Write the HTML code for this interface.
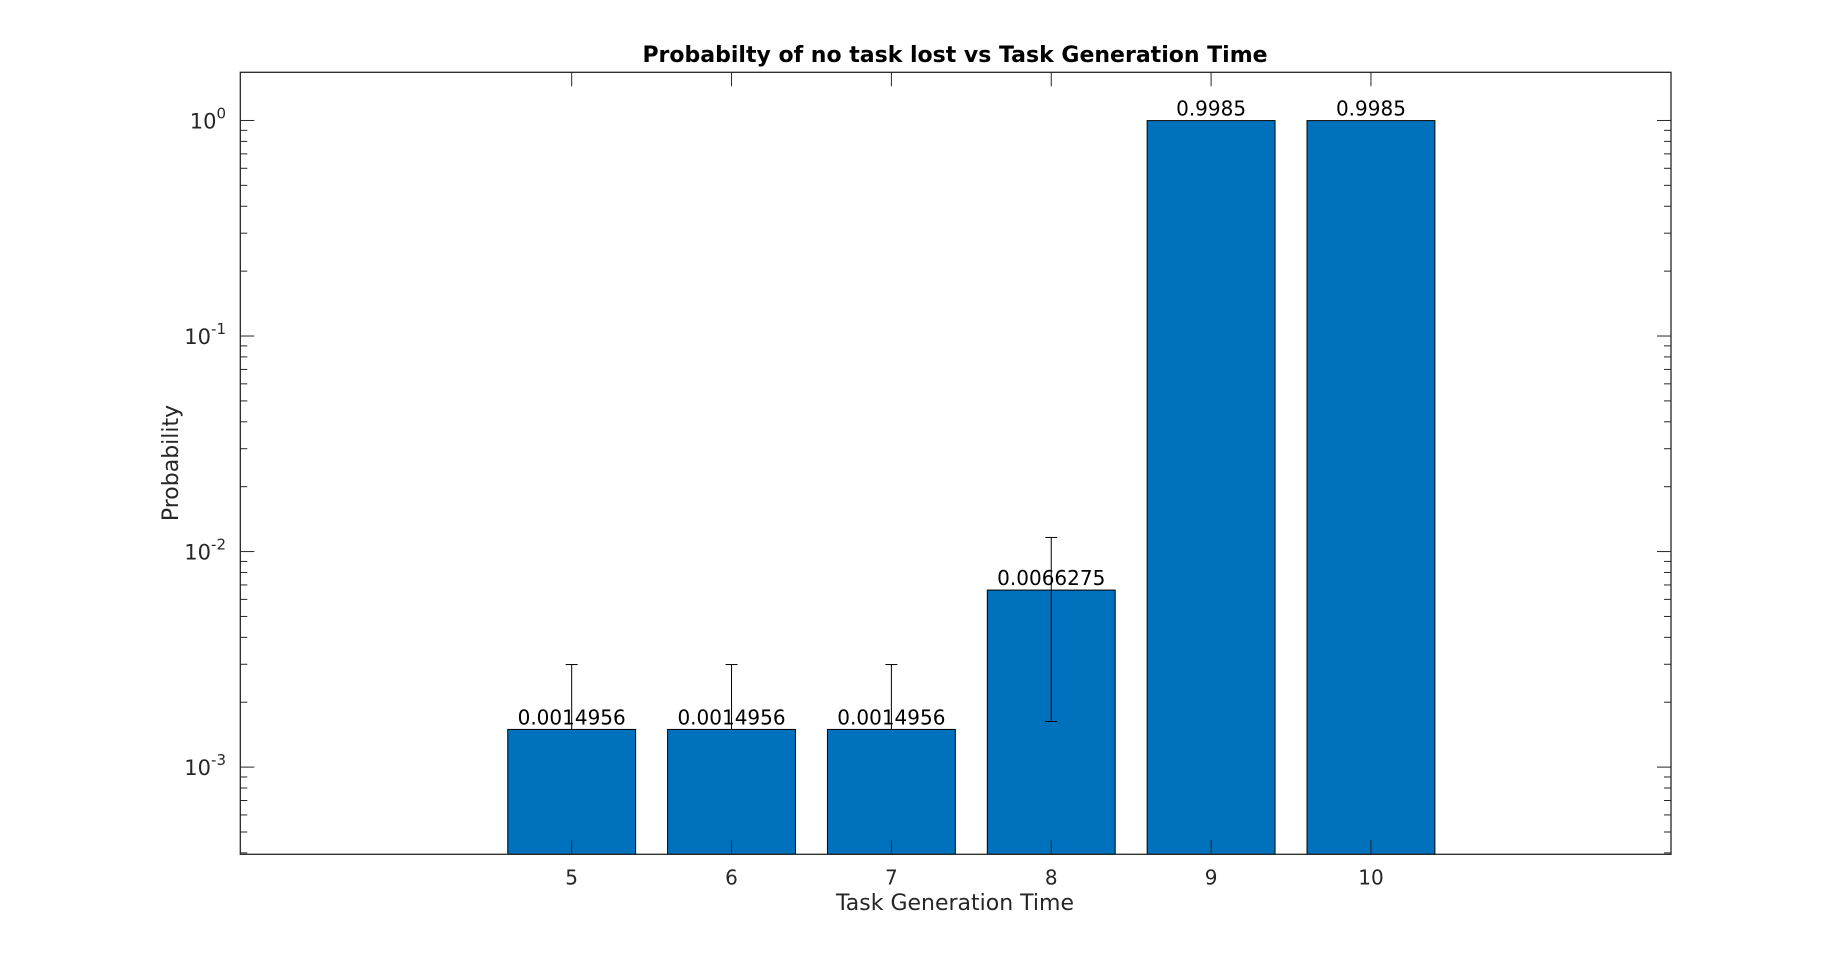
<!DOCTYPE html>
<html><head><meta charset="utf-8"><style>
body{margin:0;background:#fff;}
svg{display:block;font-family:"DejaVu Sans","Liberation Sans",sans-serif;}
</style></head><body>
<svg id="chart" width="1848" height="961" viewBox="0 0 1848 961" xmlns="http://www.w3.org/2000/svg">
<rect width="1848" height="961" fill="#fff"/>
<text x="955" y="62" text-anchor="middle" font-size="22" font-weight="bold" fill="#000">Probabilty of no task lost vs Task Generation Time</text>
<text x="955" y="910" text-anchor="middle" font-size="22" fill="#262626">Task Generation Time</text>
<text transform="translate(178,463) rotate(-90)" text-anchor="middle" font-size="22" fill="#262626">Probability</text>
<g id="bars"></g>
<g id="axes"></g>
</svg>
<script>
const categories = [5, 6, 7, 8, 9, 10];
const values = [0.0014956, 0.0014956, 0.0014956, 0.0066275, 0.9985, 0.9985];
const errors = [0.0014956, 0.0014956, 0.0014956, 0.0050, 0, 0];
const valueLabels = ["0.0014956", "0.0014956", "0.0014956", "0.0066275", "0.9985", "0.9985"];
const yTickExps = [0, -1, -2, -3];

const L = 240.3, R = 1671, T = 72.3, B = 854.3;
const xMin = 2.927, xMax = 11.877;
const yLogMin = Math.log10(3.94e-4), yLogMax = 0.2235;
const X = v => L + (v - xMin) / (xMax - xMin) * (R - L);
const Y = v => {
  const lv = Math.max(Math.log10(Math.max(v, 1e-12)), yLogMin);
  return B - (lv - yLogMin) / (yLogMax - yLogMin) * (B - T);
};
const NS = "http://www.w3.org/2000/svg";
function mk(tag, attrs, parent) {
  const e = document.createElementNS(NS, tag);
  for (const k in attrs) e.setAttribute(k, attrs[k]);
  parent.appendChild(e);
  return e;
}
const bars = document.getElementById('bars');
const axes = document.getElementById('axes');
const bw = 0.8;
categories.forEach((c, i) => {
  const x0 = X(c - bw / 2), x1 = X(c + bw / 2), yt = Y(values[i]);
  const r = mk('rect', {x: x0, y: yt, width: x1 - x0, height: B - yt, fill: '#0072BD', stroke: '#000', 'stroke-width': 1}, bars);
  
  
  if (errors[i] > 0) {
    const cx = X(c), yh = Y(values[i] + errors[i]);
    const lowOk = values[i] - errors[i] > 1e-9;
    const yl = lowOk ? Y(values[i] - errors[i]) : yt;
    const g = mk('g', {stroke: '#000', 'stroke-width': 1}, bars);
    
    
    mk('line', {x1: cx, x2: cx, y1: yh, y2: yl}, g);
    mk('line', {x1: cx - 6, x2: cx + 6, y1: yh, y2: yh}, g);
    if (lowOk) mk('line', {x1: cx - 6, x2: cx + 6, y1: yl, y2: yl}, g);
  }
  const t = mk('text', {x: X(c), y: yt - 5, 'text-anchor': 'middle', 'font-size': 20, fill: '#000'}, bars);
  t.textContent = valueLabels[i];
  
  
});
const box = mk('rect', {x: L, y: T, width: R - L, height: B - T, fill: 'none', stroke: '#262626', 'stroke-width': 1.3}, axes);


categories.forEach(c => {
  const x = X(c);
  mk('line', {x1: x, x2: x, y1: B, y2: B - 14, stroke: '#262626'}, axes);
  mk('line', {x1: x, x2: x, y1: T, y2: T + 14, stroke: '#262626'}, axes);
  const t = mk('text', {x: x, y: B + 30, 'text-anchor': 'middle', 'font-size': 20, fill: '#262626'}, axes);
  t.textContent = String(c);
  
  
});
for (let e = -4; e <= 0; e++) {
  for (let m = 1; m <= 9; m++) {
    const v = m * Math.pow(10, e);
    const lv = Math.log10(v);
    if (lv < yLogMin - 1e-9 || lv > yLogMax) continue;
    const y = Y(v), len = m === 1 ? 14 : 7;
    mk('line', {x1: L, x2: L + len, y1: y, y2: y, stroke: '#262626'}, axes);
    mk('line', {x1: R, x2: R - len, y1: y, y2: y, stroke: '#262626'}, axes);
  }
}
yTickExps.forEach(e => {
  const y = Y(Math.pow(10, e));
  const t = mk('text', {x: 226, y: y + 8, 'text-anchor': 'end', 'font-size': 21, fill: '#262626'}, axes);
  
  
  const base = document.createElementNS(NS, 'tspan');
  base.textContent = '10';
  t.appendChild(base);
  const sup = document.createElementNS(NS, 'tspan');
  sup.setAttribute('dy', '-10');
  sup.setAttribute('font-size', '15');
  sup.textContent = String(e);
  t.appendChild(sup);
});
</script>
</body></html>
